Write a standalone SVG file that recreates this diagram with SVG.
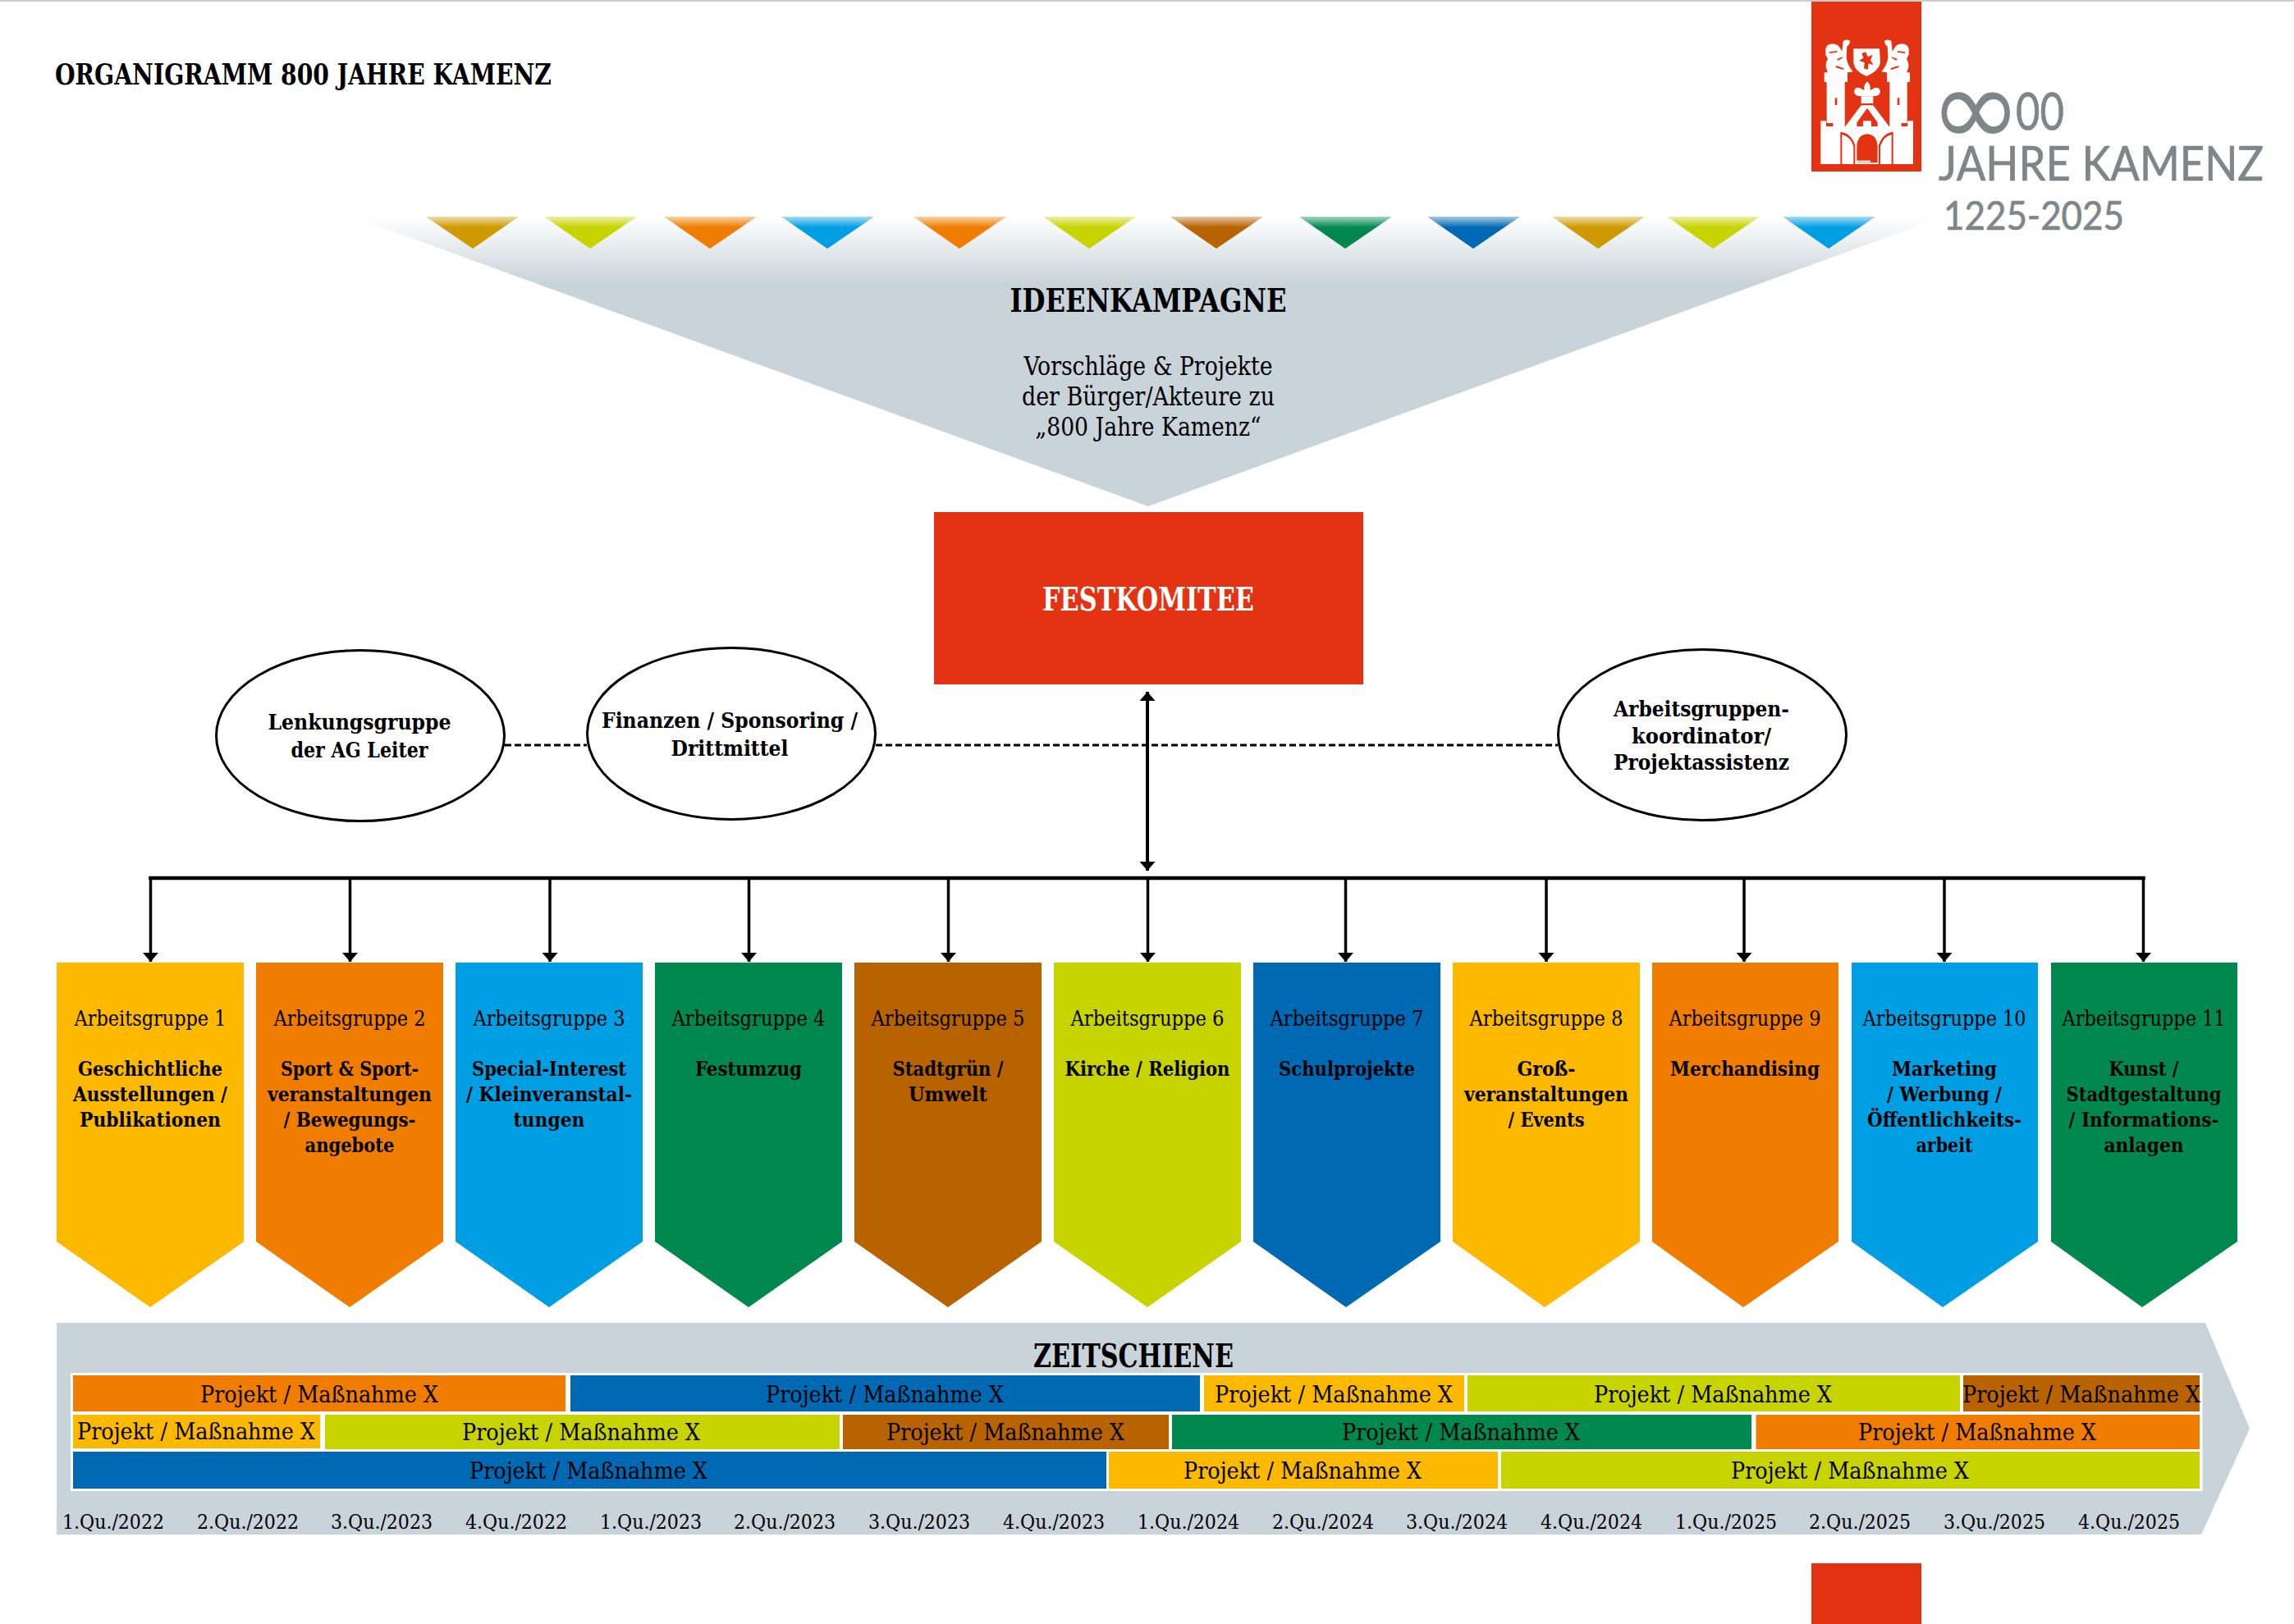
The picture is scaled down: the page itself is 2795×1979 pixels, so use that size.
<svg xmlns="http://www.w3.org/2000/svg" width="2795" height="1979" viewBox="0 0 2795 1979">
<style>
text{font-family:"DejaVu Serif Condensed","DejaVu Serif","Liberation Serif",serif;fill:#000;text-anchor:middle}
.b{font-weight:700}
.t{font-size:40px;font-weight:700}
.v{font-size:32px}
.e{font-size:26px;font-weight:700}
.g{font-size:26px}
.l{font-size:25px;font-weight:700}
.p{font-size:28px}
.q{font-size:24px}
.logo{font-family:"Lato","Open Sans","Liberation Sans",sans-serif;fill:#7f868a;stroke:#7f868a;stroke-width:.7px;text-anchor:start}
.ell{fill:#fff;stroke:#000;stroke-width:3}
.y{fill:#fcb900}.o{fill:#f07d00}.c{fill:#009fe3}.n{fill:#00884f}.r{fill:#b86300}.m{fill:#c8d400}.d{fill:#0069b4}.dy{fill:#cf9a00}
.w{fill:#fff}.red{fill:#e43312}
</style>
<defs>
<linearGradient id="fade" gradientUnits="userSpaceOnUse" x1="0" y1="264" x2="0" y2="345">
<stop offset="0" stop-color="#fff"/><stop offset="0.15" stop-color="#f8f9fa"/><stop offset="1" stop-color="#c8d3da"/>
</linearGradient>
<linearGradient id="sheen" gradientUnits="userSpaceOnUse" x1="0" y1="264" x2="0" y2="277">
<stop offset="0" stop-color="#fff" stop-opacity=".65"/><stop offset="1" stop-color="#fff" stop-opacity="0"/>
</linearGradient>
<marker id="arr" markerUnits="userSpaceOnUse" markerWidth="11" markerHeight="20" refX="11" refY="9.500" viewBox="0 0 11 19" orient="auto-start-reverse">
<path d="M0 0 L11 9.500 L0 19 Z" fill="#000"/>
</marker>
<g id="lion">
<path class="w" d="M58 88Q62 70 85 70Q105 72 112 88L118 98L122 60Q130 52 146 58Q150 70 136 80L134 120Q136 146 158 172L122 178L84 186H70L60 160Q56 140 66 125L58 110Z"/>
<path class="red" d="M72 100L100 96L100 101L72 105ZM100 125L122 118L118 124L102 131ZM96 150L125 160L122 165L94 156Z"/>
</g>
</defs>
<rect width="2795" height="1979" fill="#fff"/>
<rect width="2795" height="2" fill="#ccc"/>

<g id="title"><text class="b" x="369.500" y="103" font-size="35" textLength="605" lengthAdjust="spacingAndGlyphs">ORGANIGRAMM 800 JAHRE KAMENZ</text></g>

<g id="ideenkampagne">
<polygon points="430,264 2368,264 1399,617" fill="url(#fade)"/>
<g>
<polygon class="dy" points="519,264 632,264 576,303"/>
<polygon class="m" points="663,264 776,264 719,303"/>
<polygon class="o" points="809,264 922,264 865,303"/>
<polygon class="c" points="952,264 1065,264 1008,303"/>
<polygon class="o" points="1113,264 1226,264 1169,303"/>
<polygon class="m" points="1271,264 1384,264 1327,303"/>
<polygon class="r" points="1426,264 1539,264 1482,303"/>
<polygon class="n" points="1583,264 1696,264 1639,303"/>
<polygon class="d" points="1739,264 1852,264 1795,303"/>
<polygon class="dy" points="1891,264 2004,264 1947,303"/>
<polygon class="m" points="2031,264 2144,264 2087,303"/>
<polygon class="c" points="2172,264 2285,264 2228,303"/>
<rect x="500" y="264" width="1800" height="13" fill="url(#sheen)"/>
</g>
<text class="t" x="1399" y="380" textLength="337" lengthAdjust="spacingAndGlyphs">IDEENKAMPAGNE</text>
<text class="v" x="1399" y="457" textLength="303" lengthAdjust="spacingAndGlyphs">Vorschläge &amp; Projekte</text>
<text class="v" x="1399" y="494" textLength="308" lengthAdjust="spacingAndGlyphs">der Bürger/Akteure zu</text>
<text class="v" x="1399" y="531" textLength="275" lengthAdjust="spacingAndGlyphs">„800 Jahre Kamenz“</text>
</g>

<g id="logo">
<rect class="red" x="2207" y="2" width="134" height="207"/>
<g transform="translate(2205 30) scale(.3333)" class="w">
<path d="M40 510V352H60V372H85V352H128V372H150V352H172V372H195V352H225V372H248V352H270V372H292V352H335V372H358V352H378V510Z"/>
<rect x="62" y="210" width="66" height="150"/><rect x="292" y="210" width="64" height="150"/>
<rect x="53" y="175" width="85" height="35"/><rect x="282" y="175" width="84" height="35"/>
<polygon points="130,372 188,295 232,295 290,372 258,372 210,305 162,372"/>
<rect x="188" y="262" width="44" height="26"/>
<path d="M188 262Q165 262 162 245Q165 225 185 232Q192 240 200 238Q195 222 210 208Q225 222 220 238Q228 240 235 232Q255 225 258 245Q255 262 232 262Z"/>
<path d="M160 88H255L258 140Q250 172 208 188Q165 172 160 140Z"/>
<use href="#lion"/>
<use href="#lion" transform="translate(420 0) scale(-1 1)"/>
<g class="red">
<path d="M190 105L205 100L212 118L230 110L222 130L232 148L215 142L212 165L198 160L200 138L180 132L196 122Z"/>
<rect x="92" y="268" width="8" height="26"/><rect x="320" y="268" width="8" height="26"/>
<path d="M172 505V445Q175 402 210 400Q245 402 248 445V505Z"/>
<path d="M112 510V392Q150 396 166 440V510H160V445Q148 408 118 402V510Z"/>
<path d="M305 510V392Q267 396 252 440V510H258V445Q270 408 299 402V510Z"/>
</g>
<rect x="168" y="497" width="54" height="6"/>
</g>
<text class="logo" x="2351" y="178"><tspan font-size="135" style="font-family:'DejaVu Sans',sans-serif;stroke:none">∞</tspan><tspan x="2456" y="158" font-size="62" textLength="59" lengthAdjust="spacingAndGlyphs">00</tspan></text>
<text class="logo" x="2362" y="220" font-size="58" textLength="396" lengthAdjust="spacingAndGlyphs">JAHRE KAMENZ</text>
<text class="logo" x="2368" y="280" font-size="48" textLength="220" lengthAdjust="spacingAndGlyphs">1225-2025</text>
</g>

<g id="connectors" fill="none" stroke="#000">
<path d="M615 908H715M1067 908H1898" stroke-width="3" stroke-dasharray="8 4"/>
<path d="M183.500 1070H2611.500" stroke-width="4.500" stroke-linecap="square"/>
<path d="M1398 843V1061" stroke-width="4" marker-start="url(#arr)" marker-end="url(#arr)"/>
<g stroke-width="3.500">
<path d="M183.500 1070V1172" marker-end="url(#arr)"/>
<path d="M426.500 1070V1172" marker-end="url(#arr)"/>
<path d="M670 1070V1172" marker-end="url(#arr)"/>
<path d="M912.500 1070V1172" marker-end="url(#arr)"/>
<path d="M1155.500 1070V1172" marker-end="url(#arr)"/>
<path d="M1398.500 1070V1172" marker-end="url(#arr)"/>
<path d="M1639.500 1070V1172" marker-end="url(#arr)"/>
<path d="M1884 1070V1172" marker-end="url(#arr)"/>
<path d="M2125 1070V1172" marker-end="url(#arr)"/>
<path d="M2369 1070V1172" marker-end="url(#arr)"/>
<path d="M2611.500 1070V1172" marker-end="url(#arr)"/>
</g>
</g>

<g id="festkomitee">
<rect class="red" x="1138" y="624" width="523" height="210"/>
<text class="t" x="1399" y="744" style="fill:#fff" textLength="258" lengthAdjust="spacingAndGlyphs">FESTKOMITEE</text>
</g>
<g id="lenkungsgruppe">
<ellipse class="ell" cx="439" cy="896.500" rx="175.500" ry="104"/>
<text class="e" x="438" y="889" textLength="223" lengthAdjust="spacingAndGlyphs">Lenkungsgruppe</text>
<text class="e" x="438" y="923" textLength="167" lengthAdjust="spacingAndGlyphs">der AG Leiter</text>
</g>
<g id="finanzen">
<ellipse class="ell" cx="891" cy="894" rx="175.500" ry="104.500"/>
<text class="e" x="889" y="887" textLength="312" lengthAdjust="spacingAndGlyphs">Finanzen / Sponsoring /</text>
<text class="e" x="889" y="921" textLength="143" lengthAdjust="spacingAndGlyphs">Drittmittel</text>
</g>
<g id="koordinator">
<ellipse class="ell" cx="2074" cy="895.500" rx="175.500" ry="104"/>
<text class="e" x="2073" y="873" textLength="214" lengthAdjust="spacingAndGlyphs">Arbeitsgruppen-</text>
<text class="e" x="2073" y="906" textLength="170" lengthAdjust="spacingAndGlyphs">koordinator/</text>
<text class="e" x="2073" y="938" textLength="214" lengthAdjust="spacingAndGlyphs">Projektassistenz</text>
</g>

<g id="ag1"><polygon class="y" points="69,1173 297,1173 297,1513 183,1593 69,1513"/>
<text class="g" x="183" y="1250" textLength="185" lengthAdjust="spacingAndGlyphs">Arbeitsgruppe 1</text>
<text class="l" x="183" y="1311" textLength="176" lengthAdjust="spacingAndGlyphs">Geschichtliche</text>
<text class="l" x="183" y="1342" textLength="188" lengthAdjust="spacingAndGlyphs">Ausstellungen /</text>
<text class="l" x="183" y="1373" textLength="172" lengthAdjust="spacingAndGlyphs">Publikationen</text></g>
<g id="ag2"><polygon class="o" points="312,1173 540,1173 540,1513 426,1593 312,1513"/>
<text class="g" x="426" y="1250" textLength="185" lengthAdjust="spacingAndGlyphs">Arbeitsgruppe 2</text>
<text class="l" x="426" y="1311" textLength="168" lengthAdjust="spacingAndGlyphs">Sport &amp; Sport-</text>
<text class="l" x="426" y="1342" textLength="200" lengthAdjust="spacingAndGlyphs">veranstaltungen</text>
<text class="l" x="426" y="1373" textLength="161" lengthAdjust="spacingAndGlyphs">/ Bewegungs-</text>
<text class="l" x="426" y="1404" textLength="109" lengthAdjust="spacingAndGlyphs">angebote</text></g>
<g id="ag3"><polygon class="c" points="555,1173 783,1173 783,1513 669,1593 555,1513"/>
<text class="g" x="669" y="1250" textLength="185" lengthAdjust="spacingAndGlyphs">Arbeitsgruppe 3</text>
<text class="l" x="669" y="1311" textLength="188" lengthAdjust="spacingAndGlyphs">Special-Interest</text>
<text class="l" x="669" y="1342" textLength="202" lengthAdjust="spacingAndGlyphs">/ Kleinveranstal-</text>
<text class="l" x="669" y="1373" textLength="87" lengthAdjust="spacingAndGlyphs">tungen</text></g>
<g id="ag4"><polygon class="n" points="798,1173 1026,1173 1026,1513 912,1593 798,1513"/>
<text class="g" x="912" y="1250" textLength="187" lengthAdjust="spacingAndGlyphs">Arbeitsgruppe 4</text>
<text class="l" x="912" y="1311" textLength="130" lengthAdjust="spacingAndGlyphs">Festumzug</text></g>
<g id="ag5"><polygon class="r" points="1041,1173 1269,1173 1269,1513 1155,1593 1041,1513"/>
<text class="g" x="1155" y="1250" textLength="187" lengthAdjust="spacingAndGlyphs">Arbeitsgruppe 5</text>
<text class="l" x="1155" y="1311" textLength="135" lengthAdjust="spacingAndGlyphs">Stadtgrün /</text>
<text class="l" x="1155" y="1342" textLength="96" lengthAdjust="spacingAndGlyphs">Umwelt</text></g>
<g id="ag6"><polygon class="m" points="1284,1173 1512,1173 1512,1513 1398,1593 1284,1513"/>
<text class="g" x="1398" y="1250" textLength="187" lengthAdjust="spacingAndGlyphs">Arbeitsgruppe 6</text>
<text class="l" x="1398" y="1311" textLength="201" lengthAdjust="spacingAndGlyphs">Kirche / Religion</text></g>
<g id="ag7"><polygon class="d" points="1527,1173 1755,1173 1755,1513 1640,1593 1527,1513"/>
<text class="g" x="1641" y="1250" textLength="187" lengthAdjust="spacingAndGlyphs">Arbeitsgruppe 7</text>
<text class="l" x="1641" y="1311" textLength="166" lengthAdjust="spacingAndGlyphs">Schulprojekte</text></g>
<g id="ag8"><polygon class="y" points="1770,1173 1998,1173 1998,1513 1882,1593 1770,1513"/>
<text class="g" x="1884" y="1250" textLength="187" lengthAdjust="spacingAndGlyphs">Arbeitsgruppe 8</text>
<text class="l" x="1884" y="1311" textLength="71" lengthAdjust="spacingAndGlyphs">Groß-</text>
<text class="l" x="1884" y="1342" textLength="200" lengthAdjust="spacingAndGlyphs">veranstaltungen</text>
<text class="l" x="1884" y="1373" textLength="93" lengthAdjust="spacingAndGlyphs">/ Events</text></g>
<g id="ag9"><polygon class="o" points="2013,1173 2240,1173 2240,1513 2124,1593 2013,1513"/>
<text class="g" x="2126" y="1250" textLength="185" lengthAdjust="spacingAndGlyphs">Arbeitsgruppe 9</text>
<text class="l" x="2126" y="1311" textLength="182" lengthAdjust="spacingAndGlyphs">Merchandising</text></g>
<g id="ag10"><polygon class="c" points="2256,1173 2483,1173 2483,1513 2367,1593 2256,1513"/>
<text class="g" x="2369" y="1250" textLength="199" lengthAdjust="spacingAndGlyphs">Arbeitsgruppe 10</text>
<text class="l" x="2369" y="1311" textLength="128" lengthAdjust="spacingAndGlyphs">Marketing</text>
<text class="l" x="2369" y="1342" textLength="140" lengthAdjust="spacingAndGlyphs">/ Werbung /</text>
<text class="l" x="2369" y="1373" textLength="188" lengthAdjust="spacingAndGlyphs">Öffentlichkeits-</text>
<text class="l" x="2369" y="1404" textLength="69" lengthAdjust="spacingAndGlyphs">arbeit</text></g>
<g id="ag11"><polygon class="n" points="2499,1173 2726,1173 2726,1513 2610,1593 2499,1513"/>
<text class="g" x="2612" y="1250" textLength="199" lengthAdjust="spacingAndGlyphs">Arbeitsgruppe 11</text>
<text class="l" x="2612" y="1311" textLength="85" lengthAdjust="spacingAndGlyphs">Kunst /</text>
<text class="l" x="2612" y="1342" textLength="189" lengthAdjust="spacingAndGlyphs">Stadtgestaltung</text>
<text class="l" x="2612" y="1373" textLength="183" lengthAdjust="spacingAndGlyphs">/ Informations-</text>
<text class="l" x="2612" y="1404" textLength="97" lengthAdjust="spacingAndGlyphs">anlagen</text></g>

<g id="zeitschiene">
<polygon points="69,1612 2687,1612 2741,1741 2682,1870 69,1870" fill="#c8d3da"/>
<rect class="w" x="86" y="1673" width="2597.500" height="144"/>
<text class="t" x="1381" y="1666" textLength="244" lengthAdjust="spacingAndGlyphs">ZEITSCHIENE</text>
<rect class="o" x="89" y="1676" width="600" height="44"/><text class="p" x="389" y="1709" textLength="290" lengthAdjust="spacingAndGlyphs">Projekt / Maßnahme X</text>
<rect class="d" x="695" y="1676" width="767" height="44"/><text class="p" x="1078" y="1709" textLength="290" lengthAdjust="spacingAndGlyphs">Projekt / Maßnahme X</text>
<rect class="y" x="1467" y="1676" width="317" height="44"/><text class="p" x="1625" y="1709" textLength="290" lengthAdjust="spacingAndGlyphs">Projekt / Maßnahme X</text>
<rect class="m" x="1788" y="1676" width="600" height="44"/><text class="p" x="2087" y="1709" textLength="290" lengthAdjust="spacingAndGlyphs">Projekt / Maßnahme X</text>
<rect class="r" x="2392" y="1676" width="288" height="44"/><text class="p" x="2536" y="1709" textLength="290" lengthAdjust="spacingAndGlyphs">Projekt / Maßnahme X</text>
<rect class="y" x="89" y="1724" width="301" height="41"/><text class="p" x="239" y="1754" textLength="290" lengthAdjust="spacingAndGlyphs">Projekt / Maßnahme X</text>
<rect class="m" x="396" y="1724" width="627" height="42"/><text class="p" x="708" y="1755" textLength="290" lengthAdjust="spacingAndGlyphs">Projekt / Maßnahme X</text>
<rect class="r" x="1027" y="1724" width="397" height="42"/><text class="p" x="1225" y="1755" textLength="290" lengthAdjust="spacingAndGlyphs">Projekt / Maßnahme X</text>
<rect class="n" x="1428" y="1724" width="706" height="42"/><text class="p" x="1780" y="1755" textLength="290" lengthAdjust="spacingAndGlyphs">Projekt / Maßnahme X</text>
<rect class="o" x="2139.500" y="1724" width="540.500" height="42"/><text class="p" x="2409" y="1755" textLength="290" lengthAdjust="spacingAndGlyphs">Projekt / Maßnahme X</text>
<rect class="d" x="89" y="1769" width="1259" height="45"/><text class="p" x="717" y="1802" textLength="290" lengthAdjust="spacingAndGlyphs">Projekt / Maßnahme X</text>
<rect class="y" x="1351" y="1769" width="474" height="45"/><text class="p" x="1587" y="1802" textLength="290" lengthAdjust="spacingAndGlyphs">Projekt / Maßnahme X</text>
<rect class="m" x="1829" y="1769" width="851" height="45"/><text class="p" x="2254" y="1802" textLength="290" lengthAdjust="spacingAndGlyphs">Projekt / Maßnahme X</text>
<g class="q">
<text x="138" y="1863" textLength="124" lengthAdjust="spacingAndGlyphs">1.Qu./2022</text>
<text x="302" y="1863" textLength="124" lengthAdjust="spacingAndGlyphs">2.Qu./2022</text>
<text x="465" y="1863" textLength="124" lengthAdjust="spacingAndGlyphs">3.Qu./2023</text>
<text x="629" y="1863" textLength="124" lengthAdjust="spacingAndGlyphs">4.Qu./2022</text>
<text x="793" y="1863" textLength="124" lengthAdjust="spacingAndGlyphs">1.Qu./2023</text>
<text x="956" y="1863" textLength="124" lengthAdjust="spacingAndGlyphs">2.Qu./2023</text>
<text x="1120" y="1863" textLength="124" lengthAdjust="spacingAndGlyphs">3.Qu./2023</text>
<text x="1284" y="1863" textLength="124" lengthAdjust="spacingAndGlyphs">4.Qu./2023</text>
<text x="1448" y="1863" textLength="124" lengthAdjust="spacingAndGlyphs">1.Qu./2024</text>
<text x="1612" y="1863" textLength="124" lengthAdjust="spacingAndGlyphs">2.Qu./2024</text>
<text x="1775" y="1863" textLength="124" lengthAdjust="spacingAndGlyphs">3.Qu./2024</text>
<text x="1939" y="1863" textLength="124" lengthAdjust="spacingAndGlyphs">4.Qu./2024</text>
<text x="2103" y="1863" textLength="124" lengthAdjust="spacingAndGlyphs">1.Qu./2025</text>
<text x="2266" y="1863" textLength="124" lengthAdjust="spacingAndGlyphs">2.Qu./2025</text>
<text x="2430" y="1863" textLength="124" lengthAdjust="spacingAndGlyphs">3.Qu./2025</text>
<text x="2594" y="1863" textLength="124" lengthAdjust="spacingAndGlyphs">4.Qu./2025</text>
</g>
</g>
<rect id="footer-mark" class="red" x="2207" y="1905" width="134" height="74"/>
</svg>
